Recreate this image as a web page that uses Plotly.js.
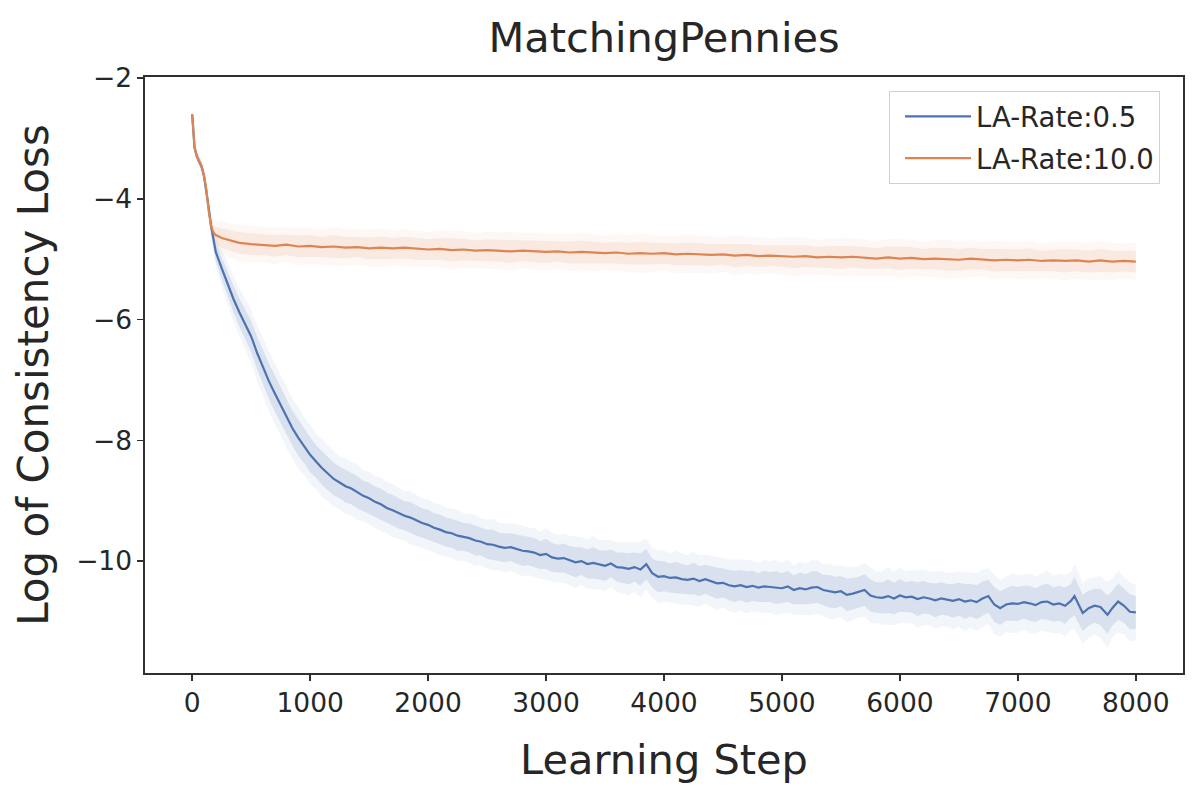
<!DOCTYPE html>
<html>
<head>
<meta charset="utf-8">
<script src="https://cdn.plot.ly/plotly-3.0.1.min.js"></script>
<style>
  html, body { margin: 0; padding: 0; background: #ffffff; }
  #chart { width: 1200px; height: 800px; }
</style>
</head>
<body>
<div id="chart"></div>
<script>
// ---- Data ----
const xTicks = [0, 1000, 2000, 3000, 4000, 5000, 6000, 7000, 8000];
const yTicks = [-10, -8, -6, -4, -2];

const seriesNames = ["LA-Rate:0.5", "LA-Rate:10.0"];

const blueStep = [0,20,40,60,80,100,120,140,160,180,
  200,250,300,350,400,450,500,550,600,650,
  700,750,800,850,900,950,1000,1050,1100,1150,
  1200,1250,1300,1350,1400,1450,1500,1550,1600,1650,
  1700,1750,1800,1850,1900,1950,2000,2050,2100,2150,
  2200,2250,2300,2350,2400,2450,2500,2550,2600,2650,
  2700,2750,2800,2850,2900,2950,3000,3050,3100,3150,
  3200,3250,3300,3350,3400,3450,3500,3550,3600,3650,
  3700,3750,3800,3850,3900,3950,4000,4050,4100,4150,
  4200,4250,4300,4350,4400,4450,4500,4550,4600,4650,
  4700,4750,4800,4850,4900,4950,5000,5050,5100,5150,
  5200,5250,5300,5350,5400,5450,5500,5550,5600,5650,
  5700,5750,5800,5850,5900,5950,6000,6050,6100,6150,
  6200,6250,6300,6350,6400,6450,6500,6550,6600,6650,
  6700,6750,6800,6850,6900,6950,7000,7050,7100,7150,
  7200,7250,7300,7350,7400,7450,7480,7550,7600,7650,
  7700,7760,7800,7850,7900,7950,8000];

const blueMean = [-2.60,-3.15,-3.30,-3.38,-3.47,-3.62,-3.85,-4.15,-4.45,-4.70,
  -4.88,-5.15,-5.42,-5.66,-5.88,-6.08,-6.28,-6.55,-6.80,-7.02,
  -7.22,-7.42,-7.62,-7.80,-7.96,-8.10,-8.24,-8.35,-8.46,-8.55,
  -8.64,-8.70,-8.76,-8.80,-8.86,-8.92,-8.96,-9.02,-9.06,-9.12,
  -9.16,-9.21,-9.25,-9.28,-9.33,-9.37,-9.40,-9.45,-9.48,-9.52,
  -9.54,-9.58,-9.60,-9.62,-9.66,-9.68,-9.72,-9.73,-9.76,-9.78,
  -9.77,-9.80,-9.83,-9.84,-9.86,-9.90,-9.88,-9.94,-9.96,-9.95,
  -9.99,-10.02,-10.00,-10.05,-10.03,-10.06,-10.08,-10.04,-10.10,-10.11,
  -10.13,-10.10,-10.14,-10.05,-10.20,-10.26,-10.25,-10.28,-10.27,-10.30,
  -10.31,-10.29,-10.33,-10.30,-10.34,-10.37,-10.36,-10.40,-10.42,-10.40,
  -10.43,-10.41,-10.44,-10.42,-10.43,-10.44,-10.45,-10.42,-10.48,-10.45,
  -10.47,-10.44,-10.43,-10.48,-10.50,-10.52,-10.50,-10.56,-10.54,-10.51,
  -10.48,-10.57,-10.60,-10.61,-10.58,-10.62,-10.57,-10.60,-10.59,-10.63,
  -10.60,-10.62,-10.65,-10.62,-10.64,-10.66,-10.63,-10.67,-10.65,-10.68,
  -10.62,-10.58,-10.72,-10.78,-10.72,-10.70,-10.71,-10.68,-10.70,-10.73,
  -10.68,-10.67,-10.72,-10.70,-10.74,-10.66,-10.58,-10.86,-10.78,-10.74,
  -10.76,-10.89,-10.78,-10.67,-10.74,-10.84,-10.85];

const blueSpread = [0.03,0.05,0.05,0.06,0.06,0.07,0.08,0.09,0.11,0.13,
  0.15,0.18,0.20,0.22,0.23,0.25,0.26,0.27,0.28,0.29,
  0.30,0.29,0.30,0.29,0.30,0.28,0.29,0.27,0.28,0.27,
  0.27,0.26,0.27,0.26,0.27,0.25,0.26,0.25,0.26,0.25,
  0.26,0.25,0.24,0.26,0.25,0.24,0.25,0.24,0.25,0.24,
  0.24,0.25,0.23,0.24,0.25,0.23,0.24,0.25,0.23,0.24,
  0.23,0.24,0.25,0.23,0.24,0.23,0.25,0.24,0.23,0.24,
  0.24,0.25,0.23,0.24,0.26,0.24,0.25,0.23,0.24,0.25,
  0.26,0.24,0.27,0.25,0.24,0.26,0.25,0.24,0.26,0.25,
  0.24,0.26,0.25,0.24,0.25,0.26,0.24,0.25,0.26,0.25,
  0.26,0.25,0.24,0.26,0.25,0.27,0.25,0.26,0.24,0.26,
  0.25,0.27,0.26,0.25,0.27,0.26,0.25,0.27,0.26,0.25,
  0.26,0.27,0.25,0.26,0.28,0.26,0.27,0.25,0.26,0.28,
  0.27,0.26,0.28,0.27,0.26,0.28,0.27,0.29,0.27,0.28,
  0.28,0.27,0.29,0.28,0.27,0.29,0.28,0.27,0.29,0.28,
  0.28,0.30,0.28,0.29,0.30,0.28,0.32,0.30,0.29,0.28,
  0.30,0.32,0.29,0.30,0.28,0.29,0.27];

const orangeStep = [0,20,40,60,80,100,120,140,160,180,
  200,250,300,350,400,500,600,700,800,900,
  1000,1100,1200,1300,1400,1500,1600,1700,1800,1900,
  2000,2100,2200,2300,2400,2500,2600,2700,2800,2900,
  3000,3100,3200,3300,3400,3500,3600,3700,3800,3900,
  4000,4100,4200,4300,4400,4500,4600,4700,4800,4900,
  5000,5100,5200,5300,5400,5500,5600,5700,5800,5900,
  6000,6100,6200,6300,6400,6500,6600,6700,6800,6900,
  7000,7100,7200,7300,7400,7500,7600,7700,7800,7900,
  8000];

const orangeMean = [-2.60,-3.15,-3.30,-3.38,-3.46,-3.62,-3.85,-4.20,-4.45,-4.56,
  -4.60,-4.65,-4.68,-4.71,-4.73,-4.75,-4.76,-4.78,-4.76,-4.79,
  -4.78,-4.80,-4.79,-4.81,-4.80,-4.82,-4.81,-4.82,-4.81,-4.83,
  -4.84,-4.83,-4.85,-4.84,-4.86,-4.85,-4.86,-4.87,-4.86,-4.87,
  -4.88,-4.87,-4.89,-4.88,-4.89,-4.90,-4.89,-4.91,-4.90,-4.91,
  -4.90,-4.92,-4.91,-4.92,-4.93,-4.92,-4.94,-4.93,-4.95,-4.94,
  -4.95,-4.96,-4.95,-4.97,-4.96,-4.97,-4.96,-4.98,-4.99,-4.97,
  -4.99,-4.98,-5.00,-4.99,-5.00,-5.01,-4.99,-5.00,-5.02,-5.01,
  -5.02,-5.01,-5.03,-5.02,-5.03,-5.02,-5.04,-5.02,-5.04,-5.03,
  -5.04];

const orangeSpread = [0.03,0.05,0.05,0.06,0.06,0.07,0.08,0.09,0.10,0.12,
  0.14,0.16,0.17,0.17,0.18,0.18,0.17,0.18,0.17,0.18,
  0.18,0.17,0.19,0.18,0.17,0.18,0.19,0.17,0.18,0.18,
  0.17,0.18,0.19,0.18,0.17,0.18,0.18,0.19,0.17,0.18,
  0.18,0.17,0.18,0.19,0.18,0.17,0.18,0.18,0.19,0.18,
  0.17,0.18,0.19,0.18,0.18,0.17,0.19,0.18,0.18,0.17,
  0.18,0.19,0.18,0.17,0.18,0.19,0.18,0.18,0.17,0.18,
  0.19,0.18,0.17,0.18,0.19,0.18,0.18,0.17,0.19,0.18,
  0.18,0.19,0.17,0.18,0.19,0.18,0.18,0.19,0.18,0.17,
  0.18];

// ---- Styling ----
const BLUE = "#4c72b0";
const ORANGE = "#dd8452";
const INK = "#262626";
const FONT = "DejaVu Sans, Verdana, sans-serif";

function bandTraces(x, mean, spread, rgb, factor, alpha) {
  const s = (i) => (spread[i] !== undefined ? spread[i] : spread[spread.length - 1]);
  const lo = mean.map((m, i) => m - factor * s(i));
  const hi = mean.map((m, i) => m + factor * s(i));
  return [
    { x: x, y: lo, type: "scatter", mode: "lines", line: { width: 0, color: "rgba(0,0,0,0)" },
      showlegend: false, hoverinfo: "skip" },
    { x: x, y: hi, type: "scatter", mode: "lines", line: { width: 0, color: "rgba(0,0,0,0)" },
      fill: "tonexty", fillcolor: "rgba(" + rgb + "," + alpha + ")", showlegend: false, hoverinfo: "skip" }
  ];
}

const traces = [].concat(
  bandTraces(blueStep, blueMean, blueSpread, "76,114,176", 1.7, 0.07),
  bandTraces(blueStep, blueMean, blueSpread, "76,114,176", 1.0, 0.15),
  bandTraces(orangeStep, orangeMean, orangeSpread, "221,132,82", 1.7, 0.06),
  bandTraces(orangeStep, orangeMean, orangeSpread, "221,132,82", 1.0, 0.12),
  [
    { x: blueStep, y: blueMean, type: "scatter", mode: "lines", name: seriesNames[0],
      legendgroup: "a", line: { color: BLUE, width: 2.2 } },
    { x: orangeStep, y: orangeMean, type: "scatter", mode: "lines", name: seriesNames[1],
      legendgroup: "b", line: { color: ORANGE, width: 2.2 } }
  ]
);

const layout = {
  width: 1200,
  height: 800,
  paper_bgcolor: "#ffffff",
  plot_bgcolor: "#ffffff",
  margin: { l: 145, r: 17, t: 77, b: 127, pad: 0 },
  font: { family: FONT, color: INK, size: 26 },
  title: {
    text: "MatchingPennies",
    font: { family: FONT, size: 41.5, color: INK },
    x: 0.5, xanchor: "center", xref: "paper",
    y: 1 - 37 / 800, yanchor: "middle", yref: "container"
  },
  xaxis: {
    range: [-400, 8400],
    tickvals: xTicks,
    ticktext: xTicks.map(String),
    showgrid: false, zeroline: false,
    showline: true, mirror: true, linecolor: "#2f2f2f", linewidth: 1.6,
    ticks: "outside", ticklen: 6, tickwidth: 1.5, tickcolor: "#2f2f2f",
    tickfont: { family: FONT, size: 26.5, color: INK },
    title: { text: "Learning Step", font: { family: FONT, size: 41.5, color: INK }, standoff: 27 }
  },
  yaxis: {
    range: [-11.854, -1.983],
    tickvals: yTicks,
    showgrid: false, zeroline: false,
    showline: true, mirror: true, linecolor: "#2f2f2f", linewidth: 1.6,
    ticks: "outside", ticklen: 6, tickwidth: 1.5, tickcolor: "#2f2f2f",
    tickfont: { family: FONT, size: 26.5, color: INK },
    title: { text: "Log of Consistency Loss", font: { family: FONT, size: 42, color: INK }, standoff: 14 }
  },
  legend: {
    x: (889 - 145) / 1038, xanchor: "left",
    y: (673 - 91) / 596, yanchor: "top",
    bgcolor: "rgba(255,255,255,0.85)",
    bordercolor: "#d0d0d0", borderwidth: 1,
    font: { family: FONT, size: 27.5, color: INK },
    traceorder: "grouped",
    tracegroupgap: 3,
    itemwidth: 66,
    indentation: 10
  },
  showlegend: true
};

Plotly.newPlot("chart", traces, layout, { displayModeBar: false, staticPlot: true });
</script>
</body>
</html>
